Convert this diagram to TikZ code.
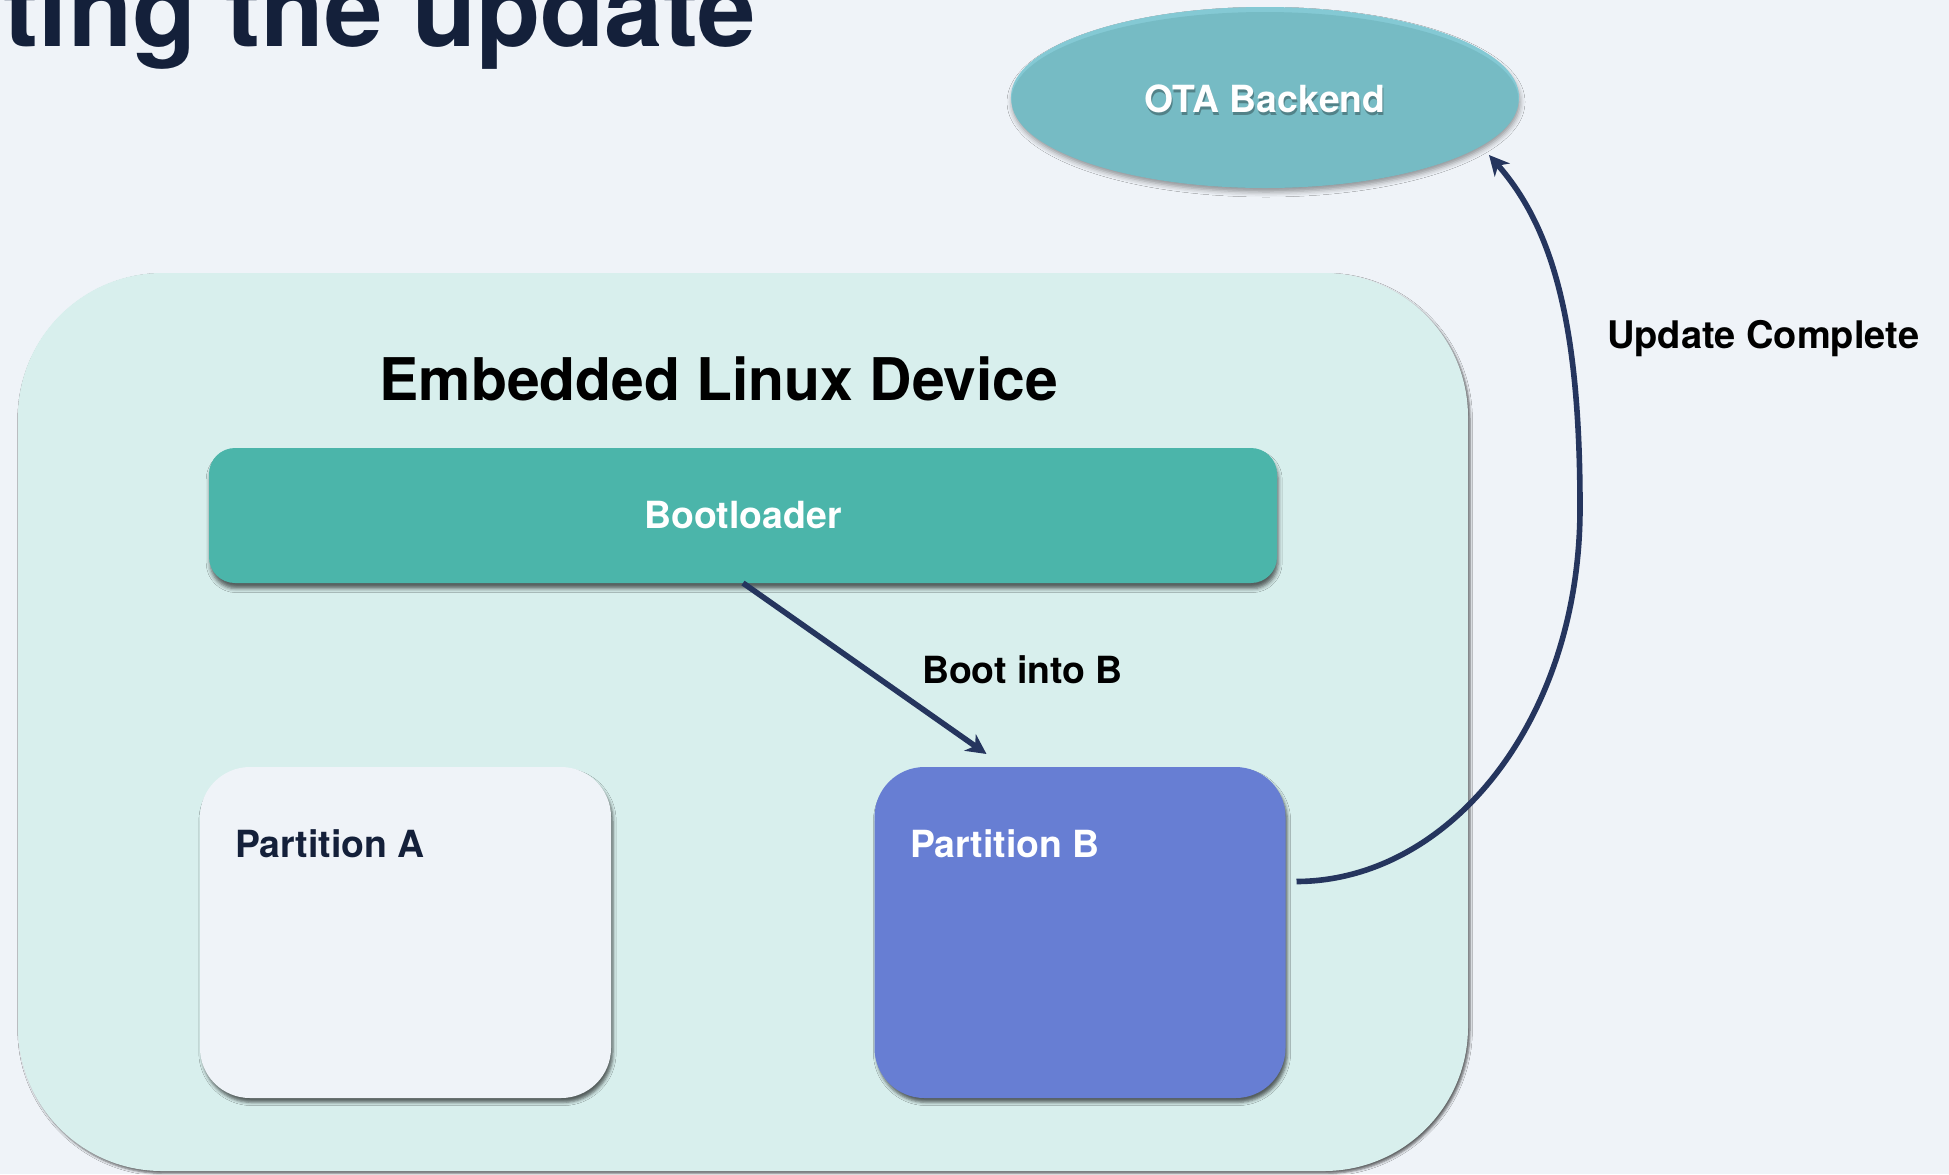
\documentclass[tikz,border=0pt]{standalone}
\usepackage{fontspec}
\setmainfont{TeX Gyre Heros}
\usetikzlibrary{shapes.geometric,arrows.meta,calc,shadows.blur}

\definecolor{pagebg}{HTML}{EFF3F8}
\definecolor{devicefill}{HTML}{D8EFED}
\definecolor{bootfill}{HTML}{4BB5AA}
\definecolor{partbfill}{HTML}{677ED3}
\definecolor{otafill}{HTML}{76BBC4}
\definecolor{otarim}{HTML}{84C9D4}
\definecolor{wire}{HTML}{25355E}
\definecolor{navy}{HTML}{14203A}

\tikzset{
  labelfont/.style={font=\fontsize{18.7}{22}\selectfont\bfseries},
  plain/.style={inner sep=0pt, outer sep=0pt},
  devicebox/.style={plain, rectangle, rounded corners=72pt, fill=devicefill,
    minimum width=725pt, minimum height=449pt,
    blur shadow={shadow xshift=1pt, shadow yshift=-1.2pt, shadow blur radius=1.2pt, shadow opacity=60}},
  bootbox/.style={plain, rectangle, rounded corners=13pt, fill=bootfill,
    minimum width=534pt, minimum height=67.5pt, text=white, labelfont,
    blur shadow={shadow xshift=0.6pt, shadow yshift=-2.8pt, shadow blur radius=2pt, shadow opacity=60}},
  partbox/.style={plain, rectangle, rounded corners=25pt,
    minimum width=205.5pt, minimum height=165.5pt,
    blur shadow={shadow xshift=1pt, shadow yshift=-2.2pt, shadow blur radius=1.6pt, shadow opacity=60}},
  otabox/.style={plain, ellipse, fill=otarim, minimum width=254pt, minimum height=90pt,
    blur shadow={shadow xshift=0.5pt, shadow yshift=-2.5pt, shadow blur radius=2.5pt, shadow opacity=40}},
  wirearrow/.style={draw=wire, line width=2.8pt, -{Stealth[length=10pt, width=10pt, inset=3pt]}},
}

\begin{document}
\begin{tikzpicture}[x=0.5pt, y=-0.5pt]
  \useasboundingbox (0,0) rectangle (1949,1174);
  \fill[pagebg] (0,0) rectangle (1949,1174);
  \clip (0,0) rectangle (1949,1174);

  % slide heading, partly off the top-left edge
  \node[plain, anchor=base east, text=navy, font=\fontsize{52.5}{60}\selectfont\bfseries]
    (heading) at (756,46) {Starting the update};

  % device with its bootloader and two partitions
  \node[devicebox] (device) at (743,722) {};
  \node[plain, anchor=base, font=\fontsize{29.4}{34}\selectfont\bfseries]
    (devicetitle) at (719,400) {Embedded Linux Device};

  \node[bootbox] (boot) at (743,515.5) {Bootloader};

  \node[partbox, fill=pagebg] (partA) at (405.5,932.5) {};
  \node[partbox, fill=partbfill] (partB) at (1080,932.5) {};
  \node[plain, anchor=base west, text=navy, labelfont] (partAtext) at (235,857) {Partition A};
  \node[plain, anchor=base west, text=white, labelfont] (partBtext) at (910,857) {Partition B};

  % backend server
  \node[otabox] (ota) at (1265,97) {};
  \fill[otafill] ($(ota.center)+(0,3)$) ellipse [x radius=253.5, y radius=88];
  \node[plain, anchor=base, text=black, opacity=0.3, labelfont] (otashadow) at (1266,115) {OTA Backend};
  \node[plain, anchor=base, text=white, labelfont] (otatext) at (1265,112) {OTA Backend};

  % connectors
  \coordinate (bootEnd) at ($(partB.north west)+(112,-13)$);
  \draw[wirearrow] (boot.south) -- (bootEnd);
  \node[plain, anchor=base west, labelfont] (bootlabel) at (922,683) {Boot into B};

  \coordinate (doneStart) at ($(partB.east)+(11,-51)$);
  \coordinate (doneEnd) at ($(ota.center)+(224,58)$);
  \draw[wirearrow] (doneStart) .. controls (1450,881) and (1580,720) .. (1580,508)
    .. controls (1580,330) and (1555,230) .. (doneEnd);
  \node[plain, anchor=base west, font=\fontsize{19}{22}\selectfont\bfseries]
    (donelabel) at (1607,348) {Update Complete};
\end{tikzpicture}
\end{document}
